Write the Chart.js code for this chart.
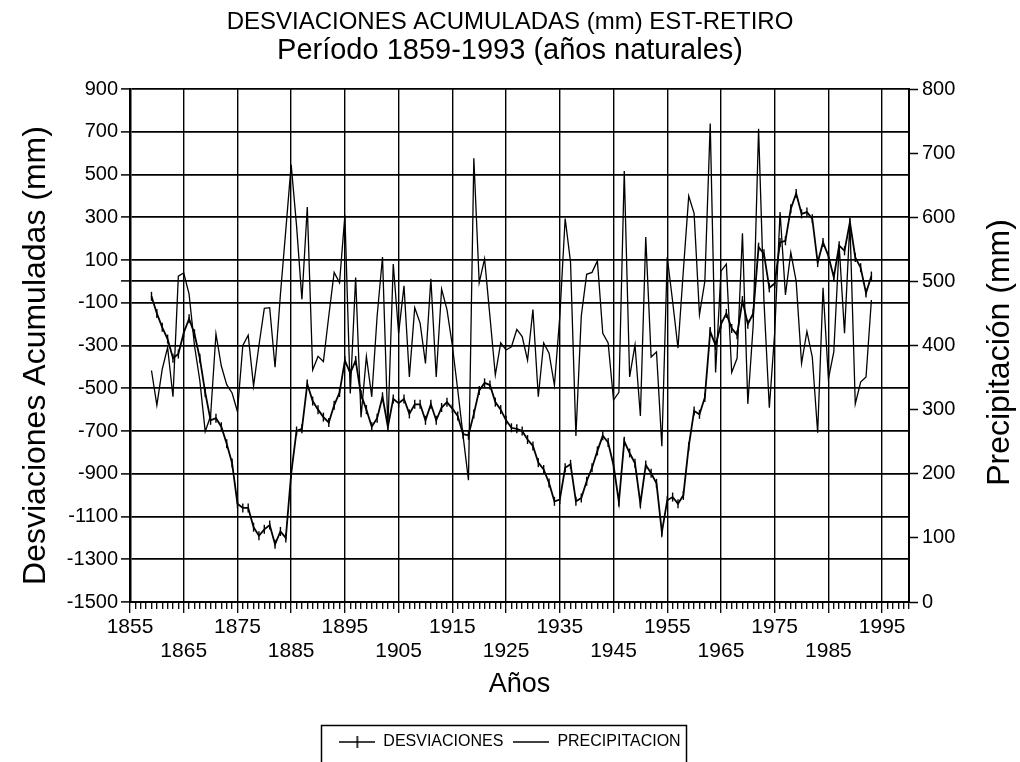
<!DOCTYPE html>
<html><head><meta charset="utf-8">
<script src="https://cdn.jsdelivr.net/npm/chart.js@4.4.0/dist/chart.umd.min.js"></script>
<style>html,body{margin:0;padding:0;background:#fff;}#wrap{width:1020px;height:762px;}</style>
</head><body><div id="wrap"><canvas id="c" width="1020" height="762"></canvas></div>
<script>
const years = [1859,1860,1861,1862,1863,1864,1865,1866,1867,1868,
1869,1870,1871,1872,1873,1874,1875,1876,1877,1878,
1879,1880,1881,1882,1883,1884,1885,1886,1887,1888,
1889,1890,1891,1892,1893,1894,1895,1896,1897,1898,
1899,1900,1901,1902,1903,1904,1905,1906,1907,1908,
1909,1910,1911,1912,1913,1914,1915,1916,1917,1918,
1919,1920,1921,1922,1923,1924,1925,1926,1927,1928,
1929,1930,1931,1932,1933,1934,1935,1936,1937,1938,
1939,1940,1941,1942,1943,1944,1945,1946,1947,1948,
1949,1950,1951,1952,1953,1954,1955,1956,1957,1958,
1959,1960,1961,1962,1963,1964,1965,1966,1967,1968,
1969,1970,1971,1972,1973,1974,1975,1976,1977,1978,
1979,1980,1981,1982,1983,1984,1985,1986,1987,1988,
1989,1990,1991,1992,1993];

const desviaciones = [-70,-150,-215,-270,-360,-340,-240,-175,-245,-360,
-520,-650,-640,-680,-760,-850,-1040,-1060,-1060,-1150,
-1190,-1160,-1140,-1230,-1170,-1200,-900,-700,-690,-480,
-560,-600,-635,-660,-580,-520,-370,-430,-370,-530,
-600,-680,-640,-540,-680,-550,-570,-550,-620,-575,
-575,-650,-575,-650,-590,-565,-595,-630,-715,-720,
-620,-510,-475,-485,-565,-600,-650,-685,-690,-700,
-740,-770,-848,-880,-943,-1029,-1021,-872,-856,-1029,
-1014,-935,-872,-793,-722,-754,-860,-1032,-748,-803,
-851,-1040,-859,-898,-945,-1174,-1024,-1009,-1040,-1001,
-772,-606,-622,-543,-234,-300,-200,-150,-220,-250,
-90,-200,-150,160,129,-30,-10,182,190,340,
411,316,324,293,88,182,119,20,167,143,
277,112,64,-54,25];

const precipitacion = [361,307,363,397,320,508,513,480,400,345,
266,290,418,368,339,326,297,400,416,337,
400,458,459,366,480,580,682,587,472,616,
362,383,375,446,514,498,603,325,506,288,
383,320,446,538,272,527,419,493,351,459,
435,372,504,351,488,456,400,331,259,190,
692,498,535,445,354,404,393,398,425,414,
377,456,320,404,388,338,445,598,530,259,
446,511,514,532,419,404,315,327,672,351,
401,290,569,382,390,243,538,469,396,517,
633,606,448,500,746,358,516,527,358,380,
575,309,432,738,470,303,420,608,479,545,
500,372,422,382,264,490,348,390,556,419,
592,309,343,351,471];

const xMajorTicks = [1855,1865,1875,1885,1895,1905,1915,1925,1935,1945,1955,1965,1975,1985,1995];
const leftTicks = [-1500,-1300,-1100,-900,-700,-500,-300,-100,0,100,300,500,700,900];
const rightTicks = [0,100,200,300,400,500,600,700,800];
const xMin = 1855, xMax = 2000;

const titleText = 'DESVIACIONES ACUMULADAS (mm) EST-RETIRO';
const subtitleText = 'Período 1859-1993 (años naturales)';
const leftAxisTitle = 'Desviaciones Acumuladas (mm)';
const rightAxisTitle = 'Precipitación (mm)';
const xAxisTitle = 'Años';
const seriesLabels = ['DESVIACIONES', 'PRECIPITACION'];

const FAM = '"Liberation Sans", Arial, sans-serif';
Chart.defaults.font.family = FAM;
Chart.defaults.color = '#000';

// tick positions along the year axis (one per year)
const xAllTicks = [];
for (let v = xMin; v <= xMax; v++) xAllTicks.push(v);
const isMajor = v => xMajorTicks.includes(v);

function makeIcon(withTick){
  const c = document.createElement('canvas'); c.width = 36; c.height = 14;
  const g = c.getContext('2d'); g.strokeStyle = '#000'; g.lineWidth = 1.6;
  g.beginPath(); g.moveTo(0,7); g.lineTo(36,7); g.stroke();
  if (withTick){ g.beginPath(); g.moveTo(18,1); g.lineTo(18,13); g.stroke(); }
  return c;
}
const legendIcons = [makeIcon(true), makeIcon(false)];

const legendBox = {
  id:'legendBox',
  afterDraw(chart){
    const lg = chart.legend; if (!lg || !lg.legendHitBoxes || !lg.legendHitBoxes.length) return;
    const hb = lg.legendHitBoxes;
    const l = Math.min(...hb.map(h=>h.left)) - 18;
    const r = Math.max(...hb.map(h=>h.left + h.width)) + 6;
    const ctx = chart.ctx; ctx.save(); ctx.strokeStyle = '#000'; ctx.lineWidth = 1.5;
    ctx.strokeRect(Math.round(l)+0.5, Math.round(lg.top)+1.5, Math.round(r-l), 120);
    ctx.restore();
  }
};
const axisTitles = {
  id:'axisTitles',
  afterDraw(chart){
    const a = chart.chartArea, ctx = chart.ctx;
    const mid = (a.top + a.bottom)/2;
    const draw = (text, x, y) => {
      ctx.save(); ctx.translate(x, y); ctx.rotate(-Math.PI/2);
      ctx.font = '32px ' + FAM; ctx.fillStyle = '#000';
      ctx.textAlign = 'center'; ctx.textBaseline = 'middle';
      ctx.fillText(text, 0, 0); ctx.restore();
    };
    draw(leftAxisTitle, chart.scales.y.left + 36, mid + 10);
    draw(rightAxisTitle, chart.scales.y2.right - 20, mid + 7);
  }
};

new Chart(document.getElementById('c'), {
  type:'line',
  data:{
    datasets:[
      { label:seriesLabels[0], yAxisID:'y',
        data: years.map((y,i)=>({x:y, y:desviaciones[i]})),
        borderColor:'#000', borderWidth:1.8, fill:false, tension:0,
        pointStyle:'line', pointRotation:90, pointRadius:4.5, pointHoverRadius:4.5,
        pointBorderColor:'#000', pointBorderWidth:1.4, pointBackgroundColor:'#000' },
      { label:seriesLabels[1], yAxisID:'y2',
        data: years.map((y,i)=>({x:y, y:precipitacion[i]})),
        borderColor:'#000', borderWidth:1.3, fill:false, tension:0,
        pointRadius:0, pointHoverRadius:0 }
    ]
  },
  options:{
    responsive:false, devicePixelRatio:1, animation:false, events:[],
    layout:{ padding:{left:0, right:0, top:0, bottom:2} },
    plugins:{
      tooltip:{enabled:false},
      title:{ display:true, text:titleText, color:'#000', font:{family:FAM, size:24, weight:'normal', lineHeight:1.2}, padding:{top:7.6, bottom:0} },
      subtitle:{ display:true, text:subtitleText, color:'#000', font:{family:FAM, size:29, weight:'normal', lineHeight:1.2}, padding:{top:-2.8, bottom:20.6} },
      legend:{ position:'bottom',
        labels:{ usePointStyle:true, pointStyleWidth:36, color:'#000', padding:10,
          font:{family:FAM, size:16},
          generateLabels: chart => chart.data.datasets.map((ds,i)=>({
            text: ds.label, pointStyle: legendIcons[i], fillStyle:'rgba(0,0,0,0)',
            strokeStyle:'rgba(0,0,0,0)', lineWidth:0, hidden:false, datasetIndex:i, fontColor:'#000'
          }))
        }
      }
    },
    scales:{
      x:{ type:'linear', min:xMin, max:xMax, position:'bottom',
        afterBuildTicks: s => { s.ticks = xAllTicks.map(v=>({value:v})); },
        afterFit: s => { s.height = 122; },
        ticks:{ autoSkip:false, maxRotation:0, minRotation:0, padding:3, color:'#000',
          font:{family:FAM, size:21, lineHeight:1.114},
          callback: v => { const i = xMajorTicks.indexOf(v); if (i < 0) return ''; return i % 2 === 0 ? [String(v), ''] : ['', String(v)]; } },
        grid:{ color: c => (c.tick && isMajor(c.tick.value)) ? '#000' : 'rgba(0,0,0,0)',
          lineWidth:1.4, tickLength:11, tickColor:'#000', tickWidth:1.3,
          tickBorderDash: c => (c.tick && isMajor(c.tick.value)) ? [] : [6, 40] },
        border:{ color:'#000', width:2 },
        title:{ display:true, text:xAxisTitle, color:'#000', font:{family:FAM, size:27, lineHeight:1.2}, padding:{top:0, bottom:23} }
      },
      y:{ type:'linear', position:'left', min:-1500, max:900,
        afterBuildTicks: s => { s.ticks = leftTicks.map(v=>({value:v})); },
        afterFit: s => { s.width = 130; },
        ticks:{ color:'#000', padding:3, font:{family:FAM, size:20}, callback: v => v === 0 ? '' : String(v) },
        grid:{ color:'#000', lineWidth:1.8, tickLength:9, tickColor:'#000', tickWidth:1.5 },
        border:{ color:'#000', width:2.5 }
      },
      y2:{ type:'linear', position:'right', min:0, max:800,
        afterBuildTicks: s => { s.ticks = rightTicks.map(v=>({value:v})); },
        afterFit: s => { s.width = 111; },
        ticks:{ color:'#000', padding:4, font:{family:FAM, size:20} },
        grid:{ drawOnChartArea:false, color:'#000', tickLength:9, tickWidth:1.5 },
        border:{ color:'#000', width:2 }
      }
    }
  },
  plugins:[legendBox, axisTitles]
});
</script></body></html>
